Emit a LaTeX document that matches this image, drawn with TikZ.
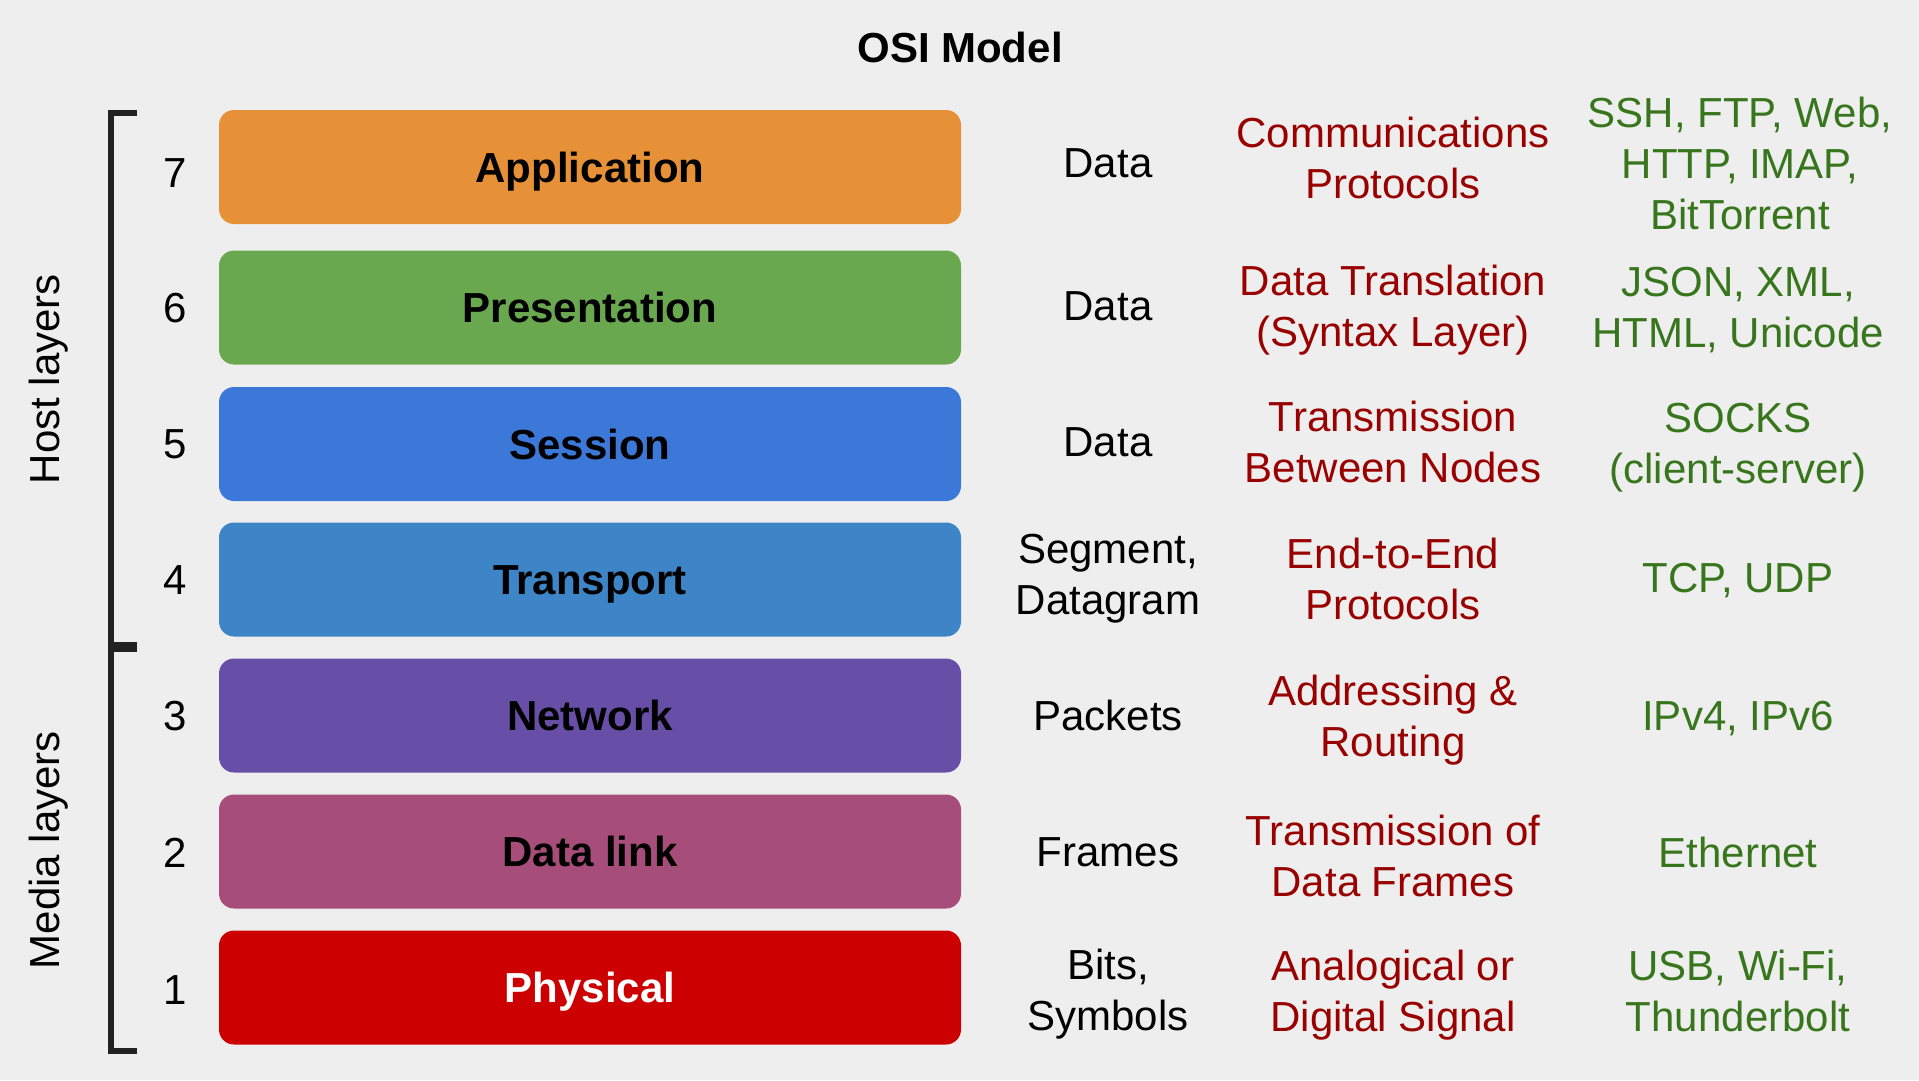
\documentclass[tikz,border=0pt]{standalone}
\usepackage{fontspec}
\setmainfont{Liberation Sans}
\definecolor{bg}{HTML}{EEEEEE}
\definecolor{cApp}{HTML}{E69138}
\definecolor{cPres}{HTML}{6AA84F}
\definecolor{cSess}{HTML}{3C78D8}
\definecolor{cTrans}{HTML}{3D85C6}
\definecolor{cNet}{HTML}{674EA7}
\definecolor{cLink}{HTML}{A64D79}
\definecolor{cPhys}{HTML}{CC0000}
\definecolor{redtxt}{HTML}{990000}
\definecolor{greentxt}{HTML}{38761D}
\definecolor{brk}{HTML}{222222}
\tikzset{
  big/.style={font=\fontsize{42}{51}\selectfont},
  layerbox/.style={font=\fontsize{42}{51}\selectfont\bfseries, rounded corners=15pt, minimum width=742pt, minimum height=114pt, inner sep=0pt, text height=30pt, text depth=0pt, text=black},
  numlbl/.style={big, text=black},
  pdu/.style={big, align=center, text=black},
  func/.style={big, align=center, text=redtxt},
  proto/.style={big, align=center, text=greentxt},
  bracket/.style={line width=6pt, draw=brk, line join=miter},
}
\begin{document}
\begin{tikzpicture}[x=1pt, y=-1pt]
\fill[bg] (0,0) rectangle (1919,1080);
\useasboundingbox (0,0) rectangle (1919,1080);

\node[big, font=\fontsize{42}{51}\selectfont\bfseries] (title) at (960,47) {OSI Model};

% brackets
\draw[bracket] (137,112.5) -- (111,112.5) -- (111,645) -- (137,645);
\draw[bracket] (137,649) -- (111,649) -- (111,1051) -- (137,1051);
\node[big, rotate=90] (host) at (48.5,379) {Host layers};
\node[big, rotate=90] (media) at (48.5,850) {Media layers};

% layer boxes
\node[layerbox, fill=cApp] (l7) at (590,167) {Application};
\node[layerbox, fill=cPres] (l6) at (590,307.5) {Presentation};
\node[layerbox, fill=cSess] (l5) at (590,444) {Session};
\node[layerbox, fill=cTrans] (l4) at (590,579.5) {Transport};
\node[layerbox, fill=cNet] (l3) at (590,715.5) {Network};
\node[layerbox, fill=cLink] (l2) at (590,851.5) {Data link};
\node[layerbox, fill=cPhys, text=white] (l1) at (590,987.5) {Physical};

% numbers
\node[numlbl] (n7) at (175,173) {7};
\node[numlbl] (n6) at (175,308) {6};
\node[numlbl] (n5) at (175,444) {5};
\node[numlbl] (n4) at (175,580) {4};
\node[numlbl] (n3) at (175,716) {3};
\node[numlbl] (n2) at (175,853) {2};
\node[numlbl] (n1) at (175,990) {1};

% PDUs
\node[pdu] (d7) at (1108,163) {Data};
\node[pdu] (d6) at (1108,306) {Data};
\node[pdu] (d5) at (1108,442) {Data};
\node[pdu] (d4) at (1108,579) {Segment,\\Datagram};
\node[pdu] (d3) at (1108,715) {Packets};
\node[pdu] (d2) at (1108,852) {Frames};
\node[pdu] (d1) at (1108,994) {Bits,\\Symbols};

% functions
\node[func] (f7) at (1393,158) {Communications\\Protocols};
\node[func] (f6) at (1393,310) {Data Translation\\(Syntax Layer)};
\node[func] (f5) at (1393,442) {Transmission\\Between Nodes};
\node[func] (f4) at (1393,579) {End-to-End\\Protocols};
\node[func] (f3) at (1393,720) {Addressing \&\\Routing};
\node[func] (f2) at (1393,856) {Transmission of\\Data Frames};
\node[func] (f1) at (1393,995) {Analogical or\\Digital Signal};

% protocols
\node[proto] (p7) at (1740,163) {SSH, FTP, Web,\\HTTP, IMAP,\\BitTorrent};
\node[proto] (p6) at (1738,310) {JSON, XML,\\HTML, Unicode};
\node[proto] (p5) at (1738,448) {SOCKS\\(client-server)};
\node[proto] (p4) at (1738,581) {TCP, UDP};
\node[proto] (p3) at (1738,719) {IPv4, IPv6};
\node[proto] (p2) at (1738,852) {Ethernet};
\node[proto] (p1) at (1738,991) {USB, Wi-Fi,\\Thunderbolt};
\end{tikzpicture}
\end{document}
